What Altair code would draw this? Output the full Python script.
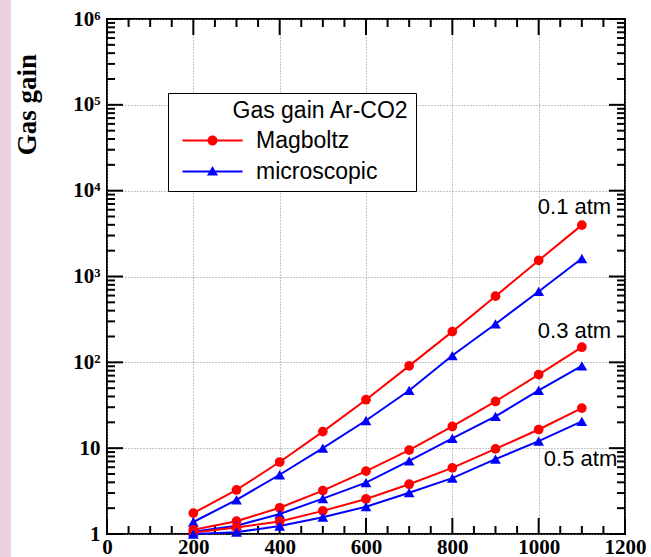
import json

import altair as alt
import pandas as pd

# Gas gain in Ar-CO2 versus voltage, for three pressures and two models
voltages = [200, 300, 400, 500, 600, 700, 800, 900, 1000, 1100]

magboltz_01 = [1.75, 3.26, 6.9, 15.6, 36.7, 91, 228, 590, 1540, 3970]
microscopic_01 = [1.38, 2.5, 4.9, 10.0, 21, 47, 120, 280, 670, 1620]
magboltz_03 = [1.12, 1.41, 2.02, 3.2, 5.4, 9.5, 17.9, 35, 72, 150]
microscopic_03 = [1.06, 1.25, 1.71, 2.58, 3.97, 7.1, 13, 23.4, 47, 91]
magboltz_05 = [1.04, 1.19, 1.40, 1.86, 2.56, 3.8, 5.9, 9.8, 16.5, 29.3]
microscopic_05 = [1.0, 1.05, 1.24, 1.57, 2.08, 3.03, 4.47, 7.45, 12.1, 20.5]

models = ["Magboltz", "microscopic"]
model_colors = ["#ff0000", "#0000ff"]
pressures = ["0.1 atm", "0.3 atm", "0.5 atm"]

# pressure labels written next to each pair of curves
pressure_label_x = [998, 998, 1012]
pressure_label_y = [6500, 230, 7.5]

# axis ticks
x_major = list(range(0, 1201, 200))
x_minor = [v for v in range(0, 1201, 50) if v % 200]
y_major = [10 ** k for k in range(7)]
y_minor = [m * 10 ** k for k in range(6) for m in range(2, 10)]
y_tick_labels = ["1", "10", "10²", "10³", "10⁴", "10⁵", "10⁶"]

series = {
    ("Magboltz", "0.1 atm"): magboltz_01,
    ("microscopic", "0.1 atm"): microscopic_01,
    ("Magboltz", "0.3 atm"): magboltz_03,
    ("microscopic", "0.3 atm"): microscopic_03,
    ("Magboltz", "0.5 atm"): magboltz_05,
    ("microscopic", "0.5 atm"): microscopic_05,
}
rows = []
for (model, pressure), gains in series.items():
    for v, g in zip(voltages, gains):
        rows.append({"voltage": v, "gain": g, "model": model,
                     "pressure": pressure, "series": f"{model} {pressure}"})
df = pd.DataFrame(rows)

labels_df = pd.DataFrame({"label": pressures, "voltage": pressure_label_x, "gain": pressure_label_y})

W, H = 518, 515
MAJOR, MINOR = 16, 8
SERIF = "Liberation Serif"
SANS = "Liberation Sans"

x_scale = alt.Scale(domain=[0, 1200], nice=False, zero=False)
y_scale = alt.Scale(type="log", domain=[1, 1e6], nice=False)
color_scale = alt.Scale(domain=models, range=model_colors)

x_axis = alt.Axis(
    values=x_major, format="d", title=None, grid=True, gridDash=[1, 2], gridColor="#8a8a8a",
    gridWidth=1, ticks=False, tickSize=0, domain=False,
    labelFont=SERIF, labelFontWeight="bold", labelFontSize=21, labelColor="black",
    labelPadding=2, labelFlush=False, labelOverlap=False,
)
y_axis = alt.Axis(
    values=y_major, grid=True, gridDash=[1, 2], gridColor="#8a8a8a", gridWidth=1,
    ticks=False, tickSize=0, domain=False,
    labelExpr=json.dumps(y_tick_labels, ensure_ascii=False) + "[round(log(datum.value)/LN10)]",
    labelFont=SERIF, labelFontWeight="bold", labelFontSize=21, labelColor="black",
    labelPadding=7, labelFlush=False, labelOverlap=False,
    title="Gas gain", titleFont=SERIF, titleFontWeight="bold", titleFontSize=27,
    titleColor="black", titleAngle=270, titleX=-72, titleY=85,
    titleAlign="center", titleBaseline="alphabetic",
)


def X(field):
    return alt.X(field, type="quantitative", scale=x_scale, axis=x_axis)


def Y(field):
    return alt.Y(field, type="quantitative", scale=y_scale, axis=y_axis, title="Gas gain")


# light strip along the left edge of the page
strip = alt.Chart(pd.DataFrame({"k": [0]})).mark_rect(color="#ead3df").encode(
    x=alt.value(-107), x2=alt.value(-96), y=alt.value(-19), y2=alt.value(H + 23)
)


# inward ticks on all four sides of the frame
def x_ticks(values, length):
    d = pd.DataFrame({"voltage": values})
    bottom = alt.Chart(d).mark_rule(color="black", strokeWidth=2).encode(
        x=X("voltage"), y=alt.value(H), y2=alt.value(H - length))
    top = alt.Chart(d).mark_rule(color="black", strokeWidth=2).encode(
        x=X("voltage"), y=alt.value(0), y2=alt.value(length))
    return [bottom, top]


def y_ticks(values, length):
    d = pd.DataFrame({"gain": values})
    left = alt.Chart(d).mark_rule(color="black", strokeWidth=2).encode(
        y=Y("gain"), x=alt.value(0), x2=alt.value(length))
    right = alt.Chart(d).mark_rule(color="black", strokeWidth=2).encode(
        y=Y("gain"), x=alt.value(W), x2=alt.value(W - length))
    return [left, right]


tick_layers = (x_ticks(x_major, MAJOR) + x_ticks(x_minor, MINOR)
               + y_ticks(y_major, MAJOR) + y_ticks(y_minor, MINOR))

base = alt.Chart(df).encode(
    x=X("voltage"),
    y=Y("gain"),
    color=alt.Color("model:N", scale=color_scale, legend=None),
)
lines = base.mark_line(strokeWidth=2).encode(detail="series:N")
points = base.mark_point(filled=True, opacity=1, strokeWidth=0).encode(
    shape=alt.Shape("model:N", scale=alt.Scale(domain=models, range=["circle", "triangle-up"]), legend=None),
    size=alt.Size("model:N", scale=alt.Scale(domain=models, range=[95, 115]), legend=None),
)

labels = alt.Chart(labels_df).mark_text(
    align="left", baseline="middle", font=SANS, fontSize=22, color="black"
).encode(x=X("voltage"), y=Y("gain"), text="label:N")

# legend symbols: a short line with the marker drawn on it
line_with_circle = "M-3,-0.1H3V0.1H-3Z M0.5,0A0.5,0.5,0,1,1,-0.5,0A0.5,0.5,0,1,1,0.5,0Z"
line_with_triangle = "M-3,-0.1H3V0.1H-3Z M0,-0.55L0.55,0.4L-0.55,0.4Z"

# header indented inside the legend box
legend_title = "\u200b" + "\u00a0" * 9 + "Gas gain Ar-CO2"
legend = alt.Legend(
    orient="none", legendX=61, legendY=74,
    title=legend_title, titleFont=SANS, titleFontSize=23,
    titleFontWeight="normal", titleColor="black", titlePadding=6, titleLimit=400,
    labelFont=SANS, labelFontSize=23, labelColor="black", labelLimit=300,
    symbolSize=400, symbolOffset=26, labelOffset=32, symbolStrokeWidth=0,
    symbolOpacity=1, padding=7, rowPadding=7,
    fillColor="white", strokeColor="black",
)
legend_layer = alt.Chart(pd.DataFrame({"model": models})).mark_point(
    filled=True, opacity=1
).encode(
    color=alt.Color("model:N", scale=color_scale, legend=legend, title=legend_title),
    shape=alt.Shape("model:N", scale=alt.Scale(domain=models, range=[line_with_circle, line_with_triangle]),
                    legend=legend, title=legend_title),
).transform_filter("false")

chart = alt.layer(
    strip, *tick_layers, lines, points, labels, legend_layer
).resolve_scale(
    color="independent", shape="independent", size="independent"
).properties(
    width=W, height=H,
    autosize=alt.AutoSizeParams(type="none"),
    padding={"left": 107, "top": 19, "right": 26, "bottom": 23},
    background="white",
).configure_view(
    stroke="black", strokeWidth=2
)

chart.save("out.html", embed_options={"renderer": "svg", "actions": False})
